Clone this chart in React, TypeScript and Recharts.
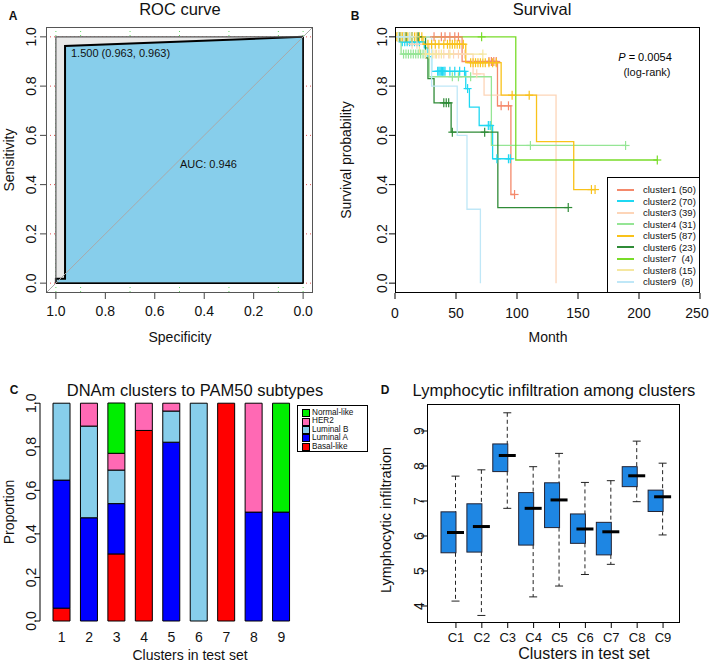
import React from "react";
import {
  ComposedChart,
  BarChart,
  Bar,
  Area,
  Line,
  Scatter,
  XAxis,
  YAxis,
  CartesianGrid,
  ReferenceLine,
  ReferenceArea,
} from "recharts";

const FONT = "'Liberation Sans', Arial, Helvetica, sans-serif";

// ---------- A: ROC curve ----------
const rocSpec = [1, 1, 0.963, 0.963, 0];
const rocSens = [0, 0.018, 0.018, 0.963, 1];
const maxAucSpec = [1, 0];
const maxAucSens = [1, 1];
const rocTicks = [0, 0.2, 0.4, 0.6, 0.8, 1];
const rocGridX = [0, 0.1, 0.2, 0.3, 0.4, 0.5, 0.6, 0.7, 0.8, 0.9, 1];
const rocAuc = 0.946;
const rocBest = { threshold: 1.5, spec: 0.963, sens: 0.963 };

// ---------- B: survival ----------
const survN = [50, 70, 39, 31, 87, 23, 4, 15, 8];
const survColors = [
  "#F4896B", "#1FD8F2", "#FDD5B8", "#95E595", "#F9C21A",
  "#2F8B37", "#78DC28", "#F5E7A0", "#BFE7F7",
];
const survTimes = [
  [0, 55, 84, 95],
  [0, 4, 24, 27, 30, 58, 61, 69, 80],
  [0, 10, 28, 64, 73, 132],
  [0, 5, 28, 79],
  [0, 23, 58, 87, 116, 146.5],
  [0, 25, 27, 32, 46, 84.3],
  [0, 99],
  [0, 20],
  [0, 30, 51, 59, 70],
];
const survProb = [
  [1, 0.9, 0.72, 0.36],
  [1, 0.98, 0.955, 0.92, 0.86, 0.79, 0.715, 0.64, 0.505],
  [1, 0.97, 0.93, 0.85, 0.763, 0],
  [1, 0.93, 0.838, 0.559],
  [1, 0.97, 0.895, 0.763, 0.575, 0.38],
  [1, 0.915, 0.83, 0.732, 0.613, 0.307],
  [1, 0.5],
  [1, 0.93],
  [1, 0.8, 0.6, 0.3, 0],
];
const survEnd = [98, 95, 132, 189, 164, 142, 215, 72, 70];
const survCensor = [
  [32, 38, 41, 45, 49, 52, 77, 79, 81, 83, 87, 93, 98],
  [6, 8, 10, 12, 14, 16, 18, 20, 35, 36, 37, 38, 39, 40, 41, 45, 49, 53, 57, 59.5, 76.5, 78, 83.5, 93, 94.5],
  [3, 6, 14, 18, 33, 36, 40, 44, 48, 52, 57, 67],
  [7, 9, 11, 13, 15, 17, 19, 21, 23, 47, 52, 62, 111, 189],
  [1, 2, 3, 4, 5, 6, 7, 8, 9, 10, 12, 14, 16, 18, 20, 22, 27, 30, 33, 36, 40, 43, 45, 47, 49, 51, 53, 56, 62, 64, 66, 68, 70, 72, 74, 77, 80, 83, 96, 110, 161, 164],
  [4, 9, 14, 19, 40, 42, 44, 47, 73.5, 142],
  [71, 215],
  [2, 5, 8, 11, 14, 17, 25, 28, 31, 34, 38, 45, 72],
  [3, 7, 12],
];
const survXTicks = [0, 50, 100, 150, 200, 250];
const survYTicks = [0, 0.2, 0.4, 0.6, 0.8, 1];
const survP = "0.0054";

// ---------- C: PAM50 proportions ----------
const pamClusters = ["1", "2", "3", "4", "5", "6", "7", "8", "9"];
const pamBasal = [0.059, 0, 0.308, 0.875, 0, 0, 1, 0, 0];
const pamLumA = [0.588, 0.474, 0.231, 0, 0.821, 0, 0, 0.5, 0.5];
const pamLumB = [0.353, 0.421, 0.154, 0, 0.143, 1, 0, 0, 0];
const pamHer2 = [0, 0.105, 0.077, 0.125, 0.036, 0, 0, 0.5, 0];
const pamNormal = [0, 0, 0.231, 0, 0, 0, 0, 0, 0.5];
const pamYTicks = [0, 0.2, 0.4, 0.6, 0.8, 1];

// ---------- D: lymphocytic infiltration ----------
const lymClusters = ["C1", "C2", "C3", "C4", "C5", "C6", "C7", "C8", "C9"];
const lymMin = [4.14, 3.73, 6.79, 4.26, 4.57, 4.9, 5.19, 6.98, 6.03];
const lymQ1 = [5.52, 5.54, 7.84, 5.74, 6.24, 5.79, 5.46, 7.41, 6.7];
const lymMed = [6.1, 6.27, 8.3, 6.79, 7.03, 6.2, 6.12, 7.72, 7.12];
const lymQ3 = [6.69, 6.92, 8.63, 7.24, 7.52, 6.63, 6.39, 7.98, 7.31];
const lymMax = [7.71, 7.89, 9.52, 7.98, 8.36, 7.53, 7.58, 8.71, 8.08];
const lymYTicks = [4, 5, 6, 7, 8, 9];

// ---------- helpers ----------
function Txt({ x, y, size = 14, rotate = false, bold = false, italic = false, align = "center", children }: any) {
  const tx = align === "left" ? "0" : "-50%";
  return (
    <div
      style={{
        position: "absolute",
        left: x,
        top: y,
        fontSize: size,
        lineHeight: 1,
        fontFamily: FONT,
        fontWeight: bold ? "bold" : "normal",
        fontStyle: italic ? "italic" : "normal",
        whiteSpace: "pre",
        color: "#111",
        transform: `translate(${tx},-50%)${rotate ? " rotate(-90deg)" : ""}`,
      }}
    >
      {children}
    </div>
  );
}

function Frame({ x0, y0, x1, y1, color = "#000" }: any) {
  return (
    <div
      style={{
        position: "absolute",
        left: x0,
        top: y0,
        width: x1 - x0,
        height: y1 - y0,
        border: `1px solid ${color}`,
        boxSizing: "border-box",
        pointerEvents: "none",
      }}
    />
  );
}

const xTick = (ty: number, fmt: (v: number | string) => string, size = 14) => (p: any) => (
  <text x={p.x} y={ty} textAnchor="middle" dominantBaseline="central" fontSize={size} fontFamily={FONT} fill="#111">
    {fmt(p.payload.value)}
  </text>
);

const yTick = (cx: number, fmt: (v: number) => string, size = 14) => (p: any) => (
  <text
    x={cx}
    y={p.y}
    transform={`rotate(-90 ${cx} ${p.y})`}
    textAnchor="middle"
    dominantBaseline="central"
    fontSize={size}
    fontFamily={FONT}
    fill="#111"
  >
    {fmt(p.payload.value)}
  </text>
);

const oneDec = (v: any) => Number(v).toFixed(1);

function survAt(times: number[], probs: number[], t: number) {
  let s = probs[0];
  times.forEach((tt, i) => {
    if (tt <= t) s = probs[i];
  });
  return s;
}

const plusShape = (color: string) => (p: any) => (
  <g stroke={color} strokeWidth={1.2}>
    <line x1={p.cx} x2={p.cx} y1={p.cy - 4.5} y2={p.cy + 4.5} />
    <line x1={p.cx - 4} x2={p.cx + 4} y1={p.cy} y2={p.cy} />
  </g>
);

function BoxShape(props: any) {
  const { x, y, width, height, payload } = props;
  const { lo, q1, med, q3, hi } = payload;
  const py = (v: number) => y + ((hi - v) / (hi - lo)) * height;
  const cx = x + width / 2;
  const bx = cx - 7; // boxes sit a little left of the tick in the figure
  return (
    <g>
      <line x1={cx} x2={cx} y1={py(hi)} y2={py(q3)} stroke="#222" strokeDasharray="4 3" />
      <line x1={cx} x2={cx} y1={py(q1)} y2={py(lo)} stroke="#222" strokeDasharray="4 3" />
      <line x1={cx - 4} x2={cx + 4} y1={py(hi)} y2={py(hi)} stroke="#222" />
      <line x1={cx - 4} x2={cx + 4} y1={py(lo)} y2={py(lo)} stroke="#222" />
      <rect x={bx - 7.5} y={py(q3)} width={15} height={py(q1) - py(q3)} fill="#1E86E3" stroke="#223" />
      <line x1={cx - 8.5} x2={cx + 8.5} y1={py(med)} y2={py(med)} stroke="#000" strokeWidth={3} />
    </g>
  );
}

// ---------- panels ----------
function RocPanel() {
  const roc = rocSpec.map((x, i) => ({ x, y: rocSens[i] }));
  const maxPoly = maxAucSpec.map((x, i) => ({ x, y: maxAucSens[i] }));
  return (
    <div style={{ position: "absolute", left: 0, top: 0 }}>
      <ComposedChart width={354} height={330} margin={{ top: 27, right: 41, bottom: 0, left: 0 }}>
        <CartesianGrid horizontal={false} verticalValues={rocGridX} stroke="#66D466" strokeDasharray="1 3" />
        <CartesianGrid vertical={false} horizontalValues={rocTicks} stroke="#E05050" strokeDasharray="1 3" />
        <XAxis
          type="number"
          dataKey="x"
          domain={[-0.04, 1.04]}
          reversed
          allowDataOverflow
          ticks={rocTicks}
          axisLine={false}
          tickSize={6}
          tickLine={{ stroke: "#444" }}
          height={37}
          tick={xTick(311, oneDec)}
        />
        <YAxis
          type="number"
          domain={[-0.04, 1.04]}
          allowDataOverflow
          ticks={rocTicks}
          axisLine={false}
          tickSize={6}
          tickLine={{ stroke: "#444" }}
          width={46}
          tick={yTick(31, oneDec)}
        />
        <Area data={maxPoly} dataKey="y" type="linear" baseValue={0} fill="#E9E9E9" fillOpacity={1} stroke="none" isAnimationActive={false} dot={false} activeDot={false} />
        <Area data={roc} dataKey="y" type="linear" baseValue={0} fill="#87CEEB" fillOpacity={1} stroke="#000" strokeWidth={2} isAnimationActive={false} dot={false} activeDot={false} />
        <ReferenceArea x1={0} x2={1} y1={0} y2={1} fill="none" stroke="#555" strokeWidth={1.2} ifOverflow="visible" zIndex={450} />
        <ReferenceLine segment={[{ x: 0, y: 0 }, { x: 0, y: 1 }]} stroke="#000" strokeWidth={1.5} ifOverflow="visible" zIndex={450} />
        <ReferenceLine segment={[{ x: 1, y: 0 }, { x: 0, y: 0 }]} stroke="#000" strokeWidth={1.5} ifOverflow="visible" zIndex={450} />
        <ReferenceLine segment={[{ x: 1.04, y: -0.04 }, { x: -0.04, y: 1.04 }]} stroke="#A9A9A9" strokeWidth={1} ifOverflow="visible" zIndex={450} />
      </ComposedChart>
      <Frame x0={46} y0={27} x1={313} y1={293} color="#555" />
      <Txt x={13} y={16} size={12} bold>A</Txt>
      <Txt x={180} y={9} size={16.5}>ROC curve</Txt>
      <Txt x={9} y={160} rotate>Sensitivity</Txt>
      <Txt x={180} y={337}>Specificity</Txt>
      <Txt x={180} y={164} size={11} align="left">{`AUC: ${rocAuc.toFixed(3)}`}</Txt>
      <Txt x={71} y={53} size={11} align="left">
        {`${rocBest.threshold.toFixed(3)} (${rocBest.spec.toFixed(3)}, ${rocBest.sens.toFixed(3)})`}
      </Txt>
    </div>
  );
}

function SurvivalPanel() {
  return (
    <div style={{ position: "absolute", left: 354, top: 0, width: 355, height: 330 }}>
      <ComposedChart width={355} height={330} margin={{ top: 27, right: 9, bottom: 0, left: 0 }}>
        <XAxis
          type="number"
          dataKey="t"
          domain={[0, 250]}
          allowDataOverflow
          ticks={survXTicks}
          axisLine={false}
          tickSize={6}
          tickLine={{ stroke: "#000" }}
          height={37}
          tick={xTick(313, (v) => String(v))}
        />
        <YAxis
          type="number"
          domain={[-0.04, 1.04]}
          allowDataOverflow
          ticks={survYTicks}
          axisLine={false}
          tickSize={6}
          tickLine={{ stroke: "#000" }}
          width={41}
          tick={yTick(28, oneDec)}
        />
        {survTimes.map((times, k) => {
          const pts = times.map((t, i) => ({ t, s: survProb[k][i] }));
          pts.push({ t: survEnd[k], s: survProb[k][survProb[k].length - 1] });
          return (
            <Line key={`l${k}`} data={pts} dataKey="s" type="stepAfter" stroke={survColors[k]} strokeWidth={1.3} dot={false} activeDot={false} isAnimationActive={false} />
          );
        })}
        {survCensor.map((cs, k) => (
          <Scatter
            key={`c${k}`}
            data={cs.map((t) => ({ t, s: survAt(survTimes[k], survProb[k], t) }))}
            dataKey="s"
            shape={plusShape(survColors[k])}
            isAnimationActive={false}
          />
        ))}
      </ComposedChart>
      <Frame x0={41} y0={27} x1={346} y1={293} color="#000" />
      <div
        style={{
          position: "absolute",
          left: 253,
          top: 177,
          width: 93,
          height: 116,
          border: "1px solid #000",
          boxSizing: "border-box",
          background: "#fff",
        }}
      >
        {survN.map((n, k) => (
          <div key={k} style={{ position: "absolute", left: 0, top: 6 + k * 11.5, height: 11.5, display: "flex", alignItems: "center" }}>
            <div style={{ marginLeft: 9, width: 17, height: 2, background: survColors[k] }} />
            <span style={{ marginLeft: 9, fontSize: 9.5, lineHeight: 1, fontFamily: FONT, whiteSpace: "pre", color: "#111" }}>
              {`cluster${k + 1} ${n < 10 ? " " : ""}(${n})`}
            </span>
          </div>
        ))}
      </div>
      <Txt x={1} y={16} size={12} bold>B</Txt>
      <Txt x={188} y={9} size={16.5}>Survival</Txt>
      <Txt x={-8} y={160} rotate>Survival probability</Txt>
      <Txt x={194} y={337}>Month</Txt>
      <div style={{ position: "absolute", left: 291, top: 57, transform: "translate(-50%,-50%)", fontSize: 11, fontFamily: FONT, whiteSpace: "pre", lineHeight: 1 }}>
        <i>P</i>
        {` = ${survP}`}
      </div>
      <Txt x={293} y={72} size={11}>(log-rank)</Txt>
    </div>
  );
}

const pamSeries = [
  { key: "basal", name: "Basal-like", color: "#FF0000", values: pamBasal },
  { key: "lumA", name: "Luminal A", color: "#0000FF", values: pamLumA },
  { key: "lumB", name: "Luminal B", color: "#87CEEB", values: pamLumB },
  { key: "her2", name: "HER2", color: "#FF69B4", values: pamHer2 },
  { key: "normal", name: "Normal-like", color: "#00EE00", values: pamNormal },
];

function PamPanel() {
  const rows = pamClusters.map((c, i) => {
    const r: any = { c };
    pamSeries.forEach((s) => (r[s.key] = s.values[i]));
    return r;
  });
  return (
    <div style={{ position: "absolute", left: 0, top: 330, width: 354, height: 332 }}>
      <BarChart width={354} height={332} data={rows} margin={{ top: 73, right: 51, bottom: 0, left: 0 }} barSize={17}>
        <XAxis dataKey="c" axisLine={false} tickLine={false} height={41} padding={{ left: 8, right: 8 }} tick={xTick(307, (v) => String(v))} />
        <YAxis
          type="number"
          domain={[0, 1]}
          ticks={pamYTicks}
          axisLine={{ stroke: "#000" }}
          tickSize={5}
          tickLine={{ stroke: "#000" }}
          width={40}
          tick={yTick(31, oneDec)}
        />
        {pamSeries.map((s) => (
          <Bar key={s.key} dataKey={s.key} stackId="a" fill={s.color} stroke="#000" strokeWidth={1} isAnimationActive={false} />
        ))}
      </BarChart>
      <div
        style={{
          position: "absolute",
          left: 297,
          top: 75,
          width: 71,
          height: 47,
          border: "1px solid #000",
          boxSizing: "border-box",
          background: "#fff",
        }}
      >
        {[...pamSeries].reverse().map((s, k) => (
          <div key={s.key} style={{ position: "absolute", left: 0, top: 3 + k * 8.4, height: 8.4, display: "flex", alignItems: "center" }}>
            <div style={{ marginLeft: 4, width: 6, height: 6, background: s.color, border: "1px solid #000" }} />
            <span style={{ marginLeft: 2, fontSize: 8.2, lineHeight: 1, fontFamily: FONT, whiteSpace: "pre", color: "#111" }}>{s.name}</span>
          </div>
        ))}
      </div>
      <Txt x={14} y={60} size={12} bold>C</Txt>
      <Txt x={195} y={60} size={16.5}>DNAm clusters to PAM50 subtypes</Txt>
      <Txt x={9} y={182} rotate>Proportion</Txt>
      <Txt x={190} y={325}>Clusters in test set</Txt>
    </div>
  );
}

function LymPanel() {
  const rows = lymClusters.map((c, i) => ({
    c,
    lo: lymMin[i],
    q1: lymQ1[i],
    med: lymMed[i],
    q3: lymQ3[i],
    hi: lymMax[i],
  }));
  return (
    <div style={{ position: "absolute", left: 354, top: 330, width: 355, height: 332 }}>
      <ComposedChart width={355} height={332} data={rows} margin={{ top: 74, right: 29, bottom: 0, left: 0 }} barSize={15}>
        <XAxis
          dataKey="c"
          axisLine={false}
          tickSize={5}
          tickLine={{ stroke: "#000" }}
          height={39}
          padding={{ left: 16, right: 4 }}
          tick={xTick(307, (v) => String(v), 13)}
        />
        <YAxis
          type="number"
          domain={[3.514, 9.771]}
          allowDataOverflow
          ticks={lymYTicks}
          axisLine={false}
          tickSize={6}
          tickLine={{ stroke: "#000" }}
          width={73}
          tick={yTick(65, (v) => String(v))}
        />
        <Bar dataKey={(d: any) => [d.lo, d.hi]} shape={BoxShape} isAnimationActive={false} />
      </ComposedChart>
      <Frame x0={73} y0={74} x1={326} y1={293} color="#000" />
      <Txt x={31} y={60} size={12} bold>D</Txt>
      <Txt x={200} y={60} size={16.5}>Lymphocytic infiltration among clusters</Txt>
      <Txt x={32} y={190} size={14.5} rotate>Lymphocytic infiltration</Txt>
      <Txt x={230} y={324} size={16}>Clusters in test set</Txt>
    </div>
  );
}

export default function App() {
  return (
    <div style={{ position: "absolute", left: 0, top: 0, width: 709, height: 662, background: "#fff", overflow: "hidden" }}>
      <RocPanel />
      <SurvivalPanel />
      <PamPanel />
      <LymPanel />
    </div>
  );
}
